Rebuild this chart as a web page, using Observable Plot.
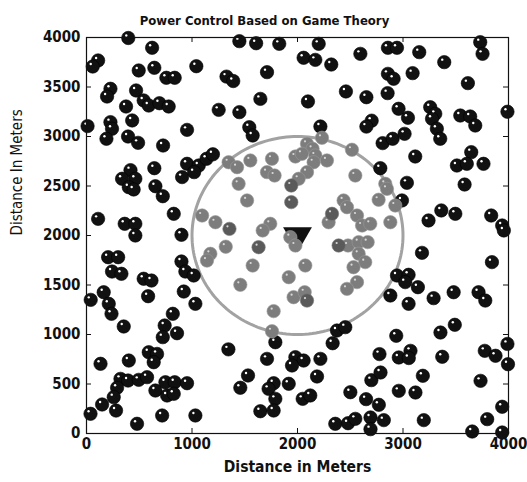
<!DOCTYPE html>
<html><head><meta charset="utf-8">
<script src="https://cdn.jsdelivr.net/npm/d3@7"></script>
<script src="https://cdn.jsdelivr.net/npm/@observablehq/plot@0.6"></script>
<style>
body{margin:0;background:#fff}
svg{font-family:"Liberation Sans Narrow","Arial Narrow","DejaVu Sans Condensed",sans-serif;font-weight:bold}
</style>
</head><body><div id="chart"></div>
<script>
// Users outside the cell (black)
const blackX = [396,622,110,59,495,643,757,836,1041,1327,1391,227,195,470,542,590,691,779,375,1253,10,227,242,433,189,394,489,726,953,417,643,953,1064,1138,1198,
1449,1608,1827,2201,2058,2169,2320,2596,1711,2459,2653,1648,2099,1449,1543,1575,2217,2703,2653,
2857,2943,3154,3732,3754,3391,2857,2911,3091,3615,2854,3990,2958,3047,3258,3306,3275,3321,3353,3543,3637,3685,2807,2902,3015,3116,3647,3511,3605,3763,2785,
337,463,401,447,653,723,906,1020,110,362,463,463,827,900,205,300,242,331,900,937,1016,542,616,40,163,211,584,922,1032,
237,818,353,741,723,858,1345,590,669,637,401,133,322,394,495,574,290,258,653,748,836,953,764,827,148,280,38,717,1032,479,
1790,2374,2453,2333,1711,1980,2058,1948,2217,2185,1531,1458,1774,1726,1790,1917,2049,2121,1648,1774,2501,2650,2700,2358,2479,2548,
3053,3491,3355,2936,2777,2960,3071,3055,3372,3775,3877,3990,3995,2787,3188,2960,3118,3735,2771,3940,2692,2818,2692,3197,3798,3656,3940,
3037,3584,2990,3363,3496,3242,3836,3940,3956,3180,3843,2943,3053,3021,3141,2880,3290,3480,3716,3780];
const blackY = [3995,3896,3768,3707,3667,3694,3593,3593,3710,3605,3560,3482,3404,3465,3364,3313,3336,3303,3303,3269,3105,3145,3078,3162,2977,3000,2936,2909,3067,2660,2680,2724,2707,2775,2820,
3963,3942,3936,3936,3795,3774,3727,3835,3650,3455,3397,3380,3354,3246,3094,3010,3101,3160,3100,
3896,3896,3852,3953,3835,3751,3633,3583,3640,3539,3438,3250,3280,3189,3296,3229,3179,3078,2977,3212,3202,3111,2933,2977,3027,2798,2842,2707,2724,2724,2680,
2573,2573,2488,2465,2498,2397,2590,2640,2168,2118,2118,2000,2219,2007,1781,1781,1636,1613,1737,1636,1596,1563,1545,1350,1427,1310,1387,1434,1310,
1209,1209,1081,1091,973,1013,850,821,804,720,737,704,552,535,542,569,462,367,434,518,518,508,384,401,293,232,199,182,182,98,
922,1040,1074,912,754,771,737,687,754,576,586,462,508,451,350,502,350,384,225,232,417,347,539,98,104,148,
1310,1098,1020,987,802,768,835,762,775,835,785,905,700,616,583,431,414,532,290,270,162,135,44,135,145,20,10,
2532,2515,2354,2253,2219,2152,2202,2101,2051,1825,1731,1596,1603,1529,1478,1394,1367,1427,1427,1343];

// Users inside the cell (gray)
const grayX = [1347,1427,2232,2090,2143,2169,2153,1980,2042,1758,1553,2279,2516,1096,1222,1174,1142,1320,1442,1711,1783,2090,2011,2548,1522,2437,2469,2295,2564,2612,1742,1670,1932,1980,2479,2580,2665,2580,2642,2531,1575,2074,1917,1458,2564,2469,1963,2068,2832,2848,2769,2927,2690,2880,1774,1758];
const grayY = [2740,2690,2987,2926,2876,2808,2740,2798,2825,2775,2758,2758,2866,2202,2134,1815,1747,1887,2522,2640,2606,2640,2573,2606,2354,2354,2286,2134,2202,2101,2118,2051,1983,1899,1899,1933,1933,1815,1731,1680,1697,1697,1579,1502,1529,1461,1377,1427,2522,2471,2361,2303,2118,2134,1236,1033];
// darker gray users inside the cell
const darkX = [1941,1941,1355,2327,2390,1631,2090];
const darkY = [2505,2337,2067,2219,1899,1882,1343];

// Base station and cell
const baseStation = [{x: 2000, y: 2000}];
const cellCenter = [2000, 2000];
const cellRadius = 1000;

const xTicks = [0,1000,2000,3000,4000];
const xTickLabels = ["0","1000","2000","3000","4000"];
const yTicks = [0,500,1000,1500,2000,2500,3000,3500,4000];
const yTickLabels = ["0","500","1000","1500","2000","2500","3000","3500","4000"];

const titleText = "Power Control Based on Game Theory";
const xLabel = "Distance in Meters";
const yLabel = "Distance In Meters";

const black = blackX.map((x,i)=>({x, y: blackY[i]}));
const gray = grayX.map((x,i)=>({x, y: grayY[i]}));
const dark = darkX.map((x,i)=>({x, y: darkY[i]}));
const circle = d3.range(0, 361, 2).map(a => ({
  x: cellCenter[0] + cellRadius*Math.cos(a*Math.PI/180),
  y: cellCenter[1] + cellRadius*Math.sin(a*Math.PI/180)
}));

const chart = Plot.plot({
  width: 527, height: 482,
  marginLeft: 86, marginRight: 19, marginTop: 37, marginBottom: 49,
  x: {domain: [0,4000], axis: null},
  y: {domain: [0,4000], axis: null},
  style: {background: "white", overflow: "visible"},
  marks: [
    Plot.line(circle, {x: "x", y: "y", stroke: "#a2a2a2", strokeWidth: 3}),
    Plot.dot(black, {x: "x", y: "y", r: 6.7, fill: "#111", stroke: "#000", strokeWidth: 0.6}),
    Plot.dot(black, {x: "x", y: "y", r: 1.2, fill: "white", dx: -2, dy: -2.5}),
    Plot.dot(baseStation, {x: "x", y: "y", symbol: "triangle", rotate: 180, r: 10.7, fill: "#111"}),
    Plot.dot(gray, {x: "x", y: "y", r: 6.7, fill: "#7d7d7d", stroke: "#999", strokeWidth: 0.6}),
    Plot.dot(dark, {x: "x", y: "y", r: 6.7, fill: "#5a5a5a", stroke: "#777", strokeWidth: 0.6}),
    Plot.dot(gray.concat(dark), {x: "x", y: "y", r: 1.1, fill: "#d8d8d8", dx: -2, dy: -2.5}),
    Plot.frame({stroke: "#111", strokeWidth: 1.2}),
    Plot.tickX(xTicks, {x: d => d, insetTop: 391, stroke: "#111"}),
    Plot.tickX(xTicks, {x: d => d, insetBottom: 391, stroke: "#111"}),
    Plot.tickY(yTicks, {y: d => d, insetRight: 417, stroke: "#111"}),
    Plot.tickY(yTicks, {y: d => d, insetLeft: 417, stroke: "#111"}),
    Plot.text(xTickLabels, {x: (d,i) => xTicks[i], text: d => d, frameAnchor: "bottom", dy: 15, fontSize: 15, fill: "#111"}),
    Plot.text(yTickLabels, {y: (d,i) => yTicks[i], text: d => d, frameAnchor: "left", dx: -6, textAnchor: "end", fontSize: 15, fill: "#111"}),
    Plot.text([titleText], {text: d => d, frameAnchor: "top", dx: -33, dy: -22, fontSize: 13, fill: "#111"}),
    Plot.text([xLabel], {text: d => d, frameAnchor: "bottom", dy: 38, fontSize: 15.5, fill: "#111"}),
    Plot.text([yLabel], {text: d => d, frameAnchor: "left", dx: -69, rotate: -90, fontSize: 15, fontWeight: "normal", fill: "#111"})
  ]
});
document.getElementById("chart").appendChild(chart);
</script>
</body></html>
